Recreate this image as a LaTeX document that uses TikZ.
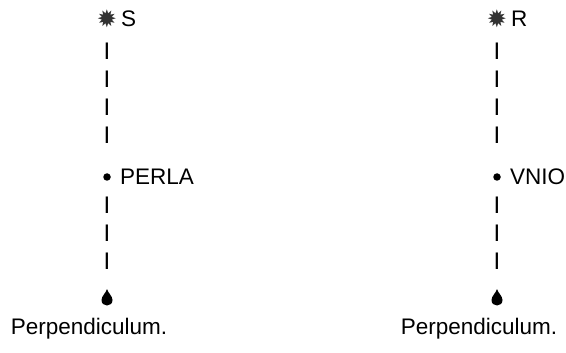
\documentclass[tikz,border=0pt]{standalone}
\usepackage{fontspec}
\setmainfont{Liberation Sans}
\newfontfamily\symfont{DejaVu Sans}
\tikzset{
  txt/.style={inner sep=0pt, font=\fontsize{22.5}{26}\selectfont},
  glyph/.style={inner sep=0pt, font=\fontsize{24}{27}\selectfont},
  bulletdot/.style={circle, fill, inner sep=0pt, minimum size=7.5pt},
  starglyph/.style={inner sep=0pt, font=\symfont\fontsize{24}{26}\selectfont, text=black!80},
  droplet/.pic={\fill (0,-9) .. controls (1,-5) and (5.5,-2) .. (5.5,2)
      .. controls (5.5,5.5) and (3,7.5) .. (0,7.5)
      .. controls (-3,7.5) and (-5.5,5.5) .. (-5.5,2)
      .. controls (-5.5,-2) and (-1,-5) .. (0,-9) -- cycle;}
}
\begin{document}
\begin{tikzpicture}[x=1pt,y=-1pt]
\useasboundingbox (0,0) rectangle (566,353);
% two plumb lines, one per column
\foreach \c/\x/\top/\mid in {L/107/S/PERLA, R/497/R/VNIO}{
  \node[starglyph] (star\c) at (\x,19) {✹};
  \node[txt, anchor=west] (top\c) at (\x+14,19) {\top};
  \foreach \i/\y in {1/51,2/79,3/107,4/135}
    \node[glyph] (up\c\i) at (\x,\y) {I};
  \node[bulletdot] (bul\c) at (\x,177) {};
  \node[txt, anchor=west] (mid\c) at (\x+13,177) {\mid};
  \foreach \i/\y in {1/205,2/233,3/261}
    \node[glyph] (dn\c\i) at (\x,\y) {I};
  \pic (drop\c) at (\x,298) {droplet};
  \node[txt] (lab\c) at (\x-18,329) {Perpendiculum.};
}
\end{tikzpicture}
\end{document}
